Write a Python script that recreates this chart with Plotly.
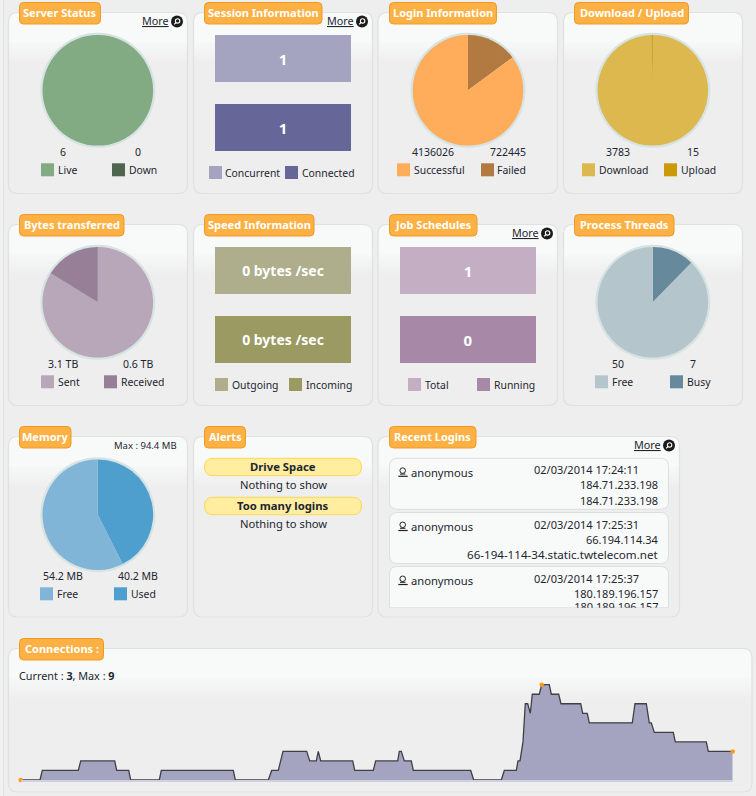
import plotly.graph_objects as go

W, H = 756, 796
FONT = "Noto Sans"
INK = "#1d2530"

# ---------- data ----------
server_labels = ["Live", "Down"]
server_values = [6, 0]
login_labels = ["Successful", "Failed"]
login_values = [4136026, 722445]
transfer_labels = ["Download", "Upload"]
transfer_values = [3783, 15]
bytes_labels = ["Sent", "Received"]
bytes_values = [3.1, 0.6]
thread_labels = ["Free", "Busy"]
thread_values = [50, 7]
memory_labels = ["Free", "Used"]
memory_values = [54.2, 40.2]

session_labels = ["Concurrent", "Connected"]
session_text = ["1", "1"]
speed_labels = ["Outgoing", "Incoming"]
speed_text = ["0 bytes /sec", "0 bytes /sec"]
job_labels = ["Total", "Running"]
job_text = ["1", "0"]
tile_length = [1, 1]

conn_t = [0, 19.3, 21.6, 57.6, 60, 94, 96, 108, 110, 138.6, 140.6, 212.6, 214.6, 247.6, 251, 257.6,
          262.3, 286, 289, 295.6, 297.6, 300, 332, 334, 352.6, 355, 377, 378.6, 380.6, 383.6, 390.6,
          392.6, 450, 453, 480.6, 483.6, 495.6, 497.3, 499.3, 502.3, 504.6, 507, 509.6, 511.6, 518.6,
          521, 528.6, 530.6, 538, 540.3, 560, 562, 566.6, 568.6, 611.6, 614.3, 625.6, 628.6, 630.6,
          633.6, 652.6, 654.6, 685.6, 687.6, 712]
conn_v = [0, 0, 1, 1, 2, 2, 1, 1, 0, 0, 1, 1, 0, 0, 1, 1,
          3, 3, 2, 2, 3, 2, 2, 1, 1, 2, 2, 3, 3, 2, 2,
          1, 1, 0, 0, 1, 1, 2, 2, 4, 8, 8, 7, 9, 9,
          10, 10, 9, 9, 8, 8, 7, 7, 6, 6, 8, 8, 6, 6,
          5, 5, 4, 4, 3, 3]

recent_users = ["anonymous", "anonymous", "anonymous"]
recent_times = ["02/03/2014 17:24:11", "02/03/2014 17:25:31", "02/03/2014 17:25:37"]
recent_ips = ["184.71.233.198", "66.194.114.34", "180.189.196.157"]
recent_hosts = ["184.71.233.198", "66-194-114-34.static.twtelecom.net", "180.189.196.157"]

# ---------- pixel helpers ----------
def fx(x):
    return x / W

def fy(y):
    return 1 - y / H

shapes = []
annos = []

def rect(x0, y0, x1, y1, fill, line=None, lw=0, layer="below"):
    shapes.append(dict(type="rect", xref="paper", yref="paper", x0=fx(x0), x1=fx(x1), y0=fy(y0), y1=fy(y1),
                       fillcolor=fill, line=dict(color=line or fill, width=lw), layer=layer))

def rrect(x0, y0, x1, y1, r, fill=None, line=None, lw=1, bottom=True):
    X = lambda v: f"{fx(v):.6f}"
    Y = lambda v: f"{fy(v):.6f}"
    p = f"M {X(x0 + r)} {Y(y0)} L {X(x1 - r)} {Y(y0)} Q {X(x1)} {Y(y0)} {X(x1)} {Y(y0 + r)} "
    if bottom:
        p += (f"L {X(x1)} {Y(y1 - r)} Q {X(x1)} {Y(y1)} {X(x1 - r)} {Y(y1)} "
              f"L {X(x0 + r)} {Y(y1)} Q {X(x0)} {Y(y1)} {X(x0)} {Y(y1 - r)} ")
    else:
        p += f"L {X(x1)} {Y(y1)} L {X(x0)} {Y(y1)} "
    p += f"L {X(x0)} {Y(y0 + r)} Q {X(x0)} {Y(y0)} {X(x0 + r)} {Y(y0)} Z"
    shapes.append(dict(type="path", xref="paper", yref="paper", path=p,
                       fillcolor=fill or "rgba(0,0,0,0)",
                       line=dict(color=line or "rgba(0,0,0,0)", width=lw if line else 0), layer="below"))

def circle(cx, cy, r, fill=None, line=None, lw=1):
    shapes.append(dict(type="circle", xref="paper", yref="paper", x0=fx(cx - r), x1=fx(cx + r),
                       y0=fy(cy - r), y1=fy(cy + r), fillcolor=fill or "rgba(0,0,0,0)",
                       line=dict(color=line or "rgba(0,0,0,0)", width=lw if line else 0), layer="below"))

def seg(x0, y0, x1, y1, color, lw=1):
    shapes.append(dict(type="line", xref="paper", yref="paper", x0=fx(x0), x1=fx(x1), y0=fy(y0), y1=fy(y1),
                       line=dict(color=color, width=lw), layer="below"))

def text(x, y, s, size=10.5, bold=False, color=INK, anchor="left"):
    annos.append(dict(xref="paper", yref="paper", x=fx(x), y=fy(y), text=f"<b>{s}</b>" if bold else s,
                      showarrow=False, xanchor=anchor, yanchor="middle", borderpad=0, borderwidth=0,
                      font=dict(family=FONT, size=size, color=color)))

def mix(a, b, t):
    ca = [int(a[i:i + 2], 16) for i in (1, 3, 5)]
    cb = [int(b[i:i + 2], 16) for i in (1, 3, 5)]
    return "#%02x%02x%02x" % tuple(round(p + (q - p) * t) for p, q in zip(ca, cb))

TOPC, BASE, EDGE = "#f8faf9", "#eeeeee", "#e1e1e1"

def panel(x0, y0, x1, y1, r=9):
    rrect(x0, y0, x1, y1, r, fill=BASE)
    rrect(x0 + .5, y0 + .5, x1 - .5, y0 + 30, r, fill=TOPC, bottom=False)
    n = 11
    for i in range(n):
        a = y0 + 30 + 2 * i
        rect(x0 + .5, a, x1 - .5, a + 2, mix(TOPC, BASE, (i + 1) / n))
    rrect(x0, y0, x1, y1, r, line=EDGE, lw=1.2)

def tag(x0, y0, x1, y1, s):
    rrect(x0, y0, x1, y1, 4, fill="#fdb144", line="#ef9a23", lw=1)
    text((x0 + x1) / 2, (y0 + y1) / 2 - .3, s, size=11, bold=True, color="#ffffff", anchor="center")

def more(x, y):
    text(x, y, "<u>More</u>", size=10.8)
    cx = x + 35
    circle(cx, y + 1, 6, fill="#1c1c1c")
    circle(cx + .6, y + .4, 2.2, line="#ffffff", lw=1.1)
    seg(cx - 1, y + 2, cx - 2.8, y + 3.8, "#ffffff", 1.2)

def legend(items, y, tx_dy=0):
    for sq, col, label in items:
        rect(sq, y - 6.5, sq + 13, y + 6.5, col)
        text(sq + 16.5, y + tx_dy, label, size=10.4)

# ---------- page chrome ----------
rect(0, 0, W, H, "#eeeeee")
rect(0, 0, 3, H, "#f1f1f1")
seg(3.5, 0, 3.5, H, "#e2e2e2", 1)

COLS = [(8.5, 187.5), (193.5, 372.5), (378, 557.5), (563.5, 742.5)]
for (a, b) in COLS:
    panel(a, 12.5, b, 193.5)
    panel(a, 224.5, b, 405.5)
panel(*(8.5, 436.5), 187.5, 617)
panel(193.5, 436.5, 372.5, 617)
panel(378, 436.5, 679.5, 617)
panel(8.5, 648.5, 752, 792)

tag(19.5, 2.5, 100.5, 24, "Server Status")
tag(204.5, 2.5, 322, 24, "Session Information")
tag(389.5, 2.5, 496.5, 24, "Login Information")
tag(574.5, 2.5, 688.5, 24, "Download / Upload")
tag(19.5, 214.5, 124, 236, "Bytes transferred")
tag(204.5, 214.5, 314, 236, "Speed Information")
tag(389.5, 214.5, 477, 236, "Job Schedules")
tag(574.5, 214.5, 674, 236, "Process Threads")
tag(19.5, 426.5, 71, 448, "Memory")
tag(204.5, 426.5, 245.5, 448, "Alerts")
tag(389.5, 426.5, 476, 448, "Recent Logins")
tag(19.5, 638.5, 103.5, 660, "Connections :")

more(142, 20.5)
more(327, 20.5)
more(512, 232.5)
more(634, 444.5)

# ---------- pies ----------
traces = []

def pie(cx, cy, labels, values, colors):
    # plotly draws the first slice clockwise from 12 o'clock
    R, ring = 55.3, 57.5
    circle(cx, cy, ring, fill="#d6e3e3")
    traces.append(go.Pie(labels=labels, values=values, sort=False, direction="clockwise", rotation=0,
                         textinfo="none", showlegend=False, marker=dict(colors=colors, line=dict(width=0)),
                         domain=dict(x=[fx(cx - R), fx(cx + R)], y=[fy(cy + R), fy(cy - R)])))

GREEN = ["#83ab83", "#4e664e"]
ORANGE = ["#ffac5b", "#b27a41"]
GOLD = ["#ddb84f", "#cc9908"]
MAUVE = ["#b8a7b8", "#977f97"]
STEEL = ["#b4c6cc", "#668a9c"]
BLUE = ["#81b5d7", "#4f9fce"]
LAV = ["#a4a4c1", "#666698"]
OLIVE = ["#aeae8c", "#9a9a62"]
PLUM = ["#c3aec3", "#a788a7"]

pie(97.8, 90.3, server_labels, server_values, GREEN)
pie(468, 90.3, login_labels[::-1], login_values[::-1], ORANGE[::-1])
pie(652.8, 90.3, transfer_labels, transfer_values, GOLD)
pie(97.8, 302.3, bytes_labels, bytes_values, MAUVE)
pie(652.8, 302.3, thread_labels[::-1], thread_values[::-1], STEEL[::-1])
pie(97.8, 514.7, memory_labels[::-1], memory_values[::-1], BLUE[::-1])

# pie captions
def caption(y, x1, t1, x2, t2):
    text(x1, y, t1, anchor="center")
    text(x2, y, t2, anchor="center")

caption(152, 63, str(server_values[0]), 138, str(server_values[1]))
legend([(41, GREEN[0], server_labels[0]), (112, GREEN[1], server_labels[1])], 169.8)
caption(152, 433.3, str(login_values[0]), 508.3, str(login_values[1]))
legend([(397, ORANGE[0], login_labels[0]), (481, ORANGE[1], login_labels[1])], 169.8)
caption(152, 618, str(transfer_values[0]), 693, str(transfer_values[1]))
legend([(582, GOLD[0], transfer_labels[0]), (664, GOLD[1], transfer_labels[1])], 169.8)
caption(364, 63, f"{bytes_values[0]} TB", 138, f"{bytes_values[1]} TB")
legend([(41, MAUVE[0], bytes_labels[0]), (104, MAUVE[1], bytes_labels[1])], 381.8)
caption(364, 618, str(thread_values[0]), 693, str(thread_values[1]))
legend([(595, STEEL[0], thread_labels[0]), (670, STEEL[1], thread_labels[1])], 381.8)
caption(576, 63.3, f"{memory_values[0]} MB", 138.3, f"{memory_values[1]} MB")
legend([(40, BLUE[0], memory_labels[0]), (114, BLUE[1], memory_labels[1])], 593.8)
text(176.5, 445.5, "Max : 94.4 MB", size=9.5, anchor="right")

legend([(209, LAV[0], session_labels[0]), (285, LAV[1], session_labels[1])], 172.5)
legend([(215, OLIVE[0], speed_labels[0]), (289, OLIVE[1], speed_labels[1])], 384.5)
legend([(408, PLUM[0], job_labels[0]), (477, PLUM[1], job_labels[1])], 384.5)

# ---------- value tiles ----------
axes = {}

def tiles(n, x0, x1, top, labels, txt, colors, size):
    # two tiles 47px tall with a 22px gap: band = 69px
    y0, y1 = top - 11, top + 127
    sfx = str(n)
    traces.append(go.Bar(orientation="h", y=labels, x=tile_length, text=txt, textposition="inside",
                         insidetextanchor="middle", textangle=0, constraintext="none",
                         textfont=dict(family=FONT, size=size, color="#ffffff", weight="bold"),
                         marker=dict(color=colors, line=dict(width=0)), showlegend=False,
                         xaxis="x" + sfx, yaxis="y" + sfx))
    axes["xaxis" + sfx] = dict(domain=[fx(x0), fx(x1)], range=[0, 1], visible=False, anchor="y" + sfx, fixedrange=True)
    axes["yaxis" + sfx] = dict(domain=[fy(y1), fy(y0)], range=[1.5, -0.5], type="category", visible=False,
                               anchor="x" + sfx, fixedrange=True)

tiles(2, 215, 351, 35, session_labels, session_text, LAV, 15)
tiles(3, 215, 351, 247, speed_labels, speed_text, OLIVE, 14)
tiles(4, 400, 536, 247, job_labels, job_text, PLUM, 15)

# ---------- alerts ----------
for (y0, y1, title, ny) in [(458.3, 475.7, "Drive Space", 484.7), (497.3, 514.7, "Too many logins", 523.7)]:
    rrect(204.5, y0, 361.5, y1, 8.7, fill="#ffeea0", line="#ffd755", lw=1)
    text(283, (y0 + y1) / 2 - .3, title, size=11.3, bold=True, anchor="center")
    text(283, ny, "Nothing to show", size=11.2, anchor="center")

# ---------- recent logins ----------
CARD_BOTTOM = 607.7
card_y = [458.3, 512.5, 566.5]
for i, y0 in enumerate(card_y):
    y1 = y0 + 51
    if y1 < CARD_BOTTOM:
        rrect(389.5, y0, 668.5, y1, 8, fill=TOPC, line="#dedede", lw=1)
    else:
        rrect(389.5, y0, 668.5, CARD_BOTTOM, 8, fill=TOPC, line="#dedede", lw=1, bottom=False)
        rect(388.5, CARD_BOTTOM, 669.5, CARD_BOTTOM + 2, BASE)
    circle(402.7, y0 + 12.3, 2.8, line="#222222", lw=1)
    seg(398.3, y0 + 18, 407.7, y0 + 18, "#222222", 1.2)
    seg(400, y0 + 15.8, 405.4, y0 + 15.8, "#222222", 1)
    text(411, y0 + 14.2, recent_users[i], size=11.2)
    text(586, y0 + 11.5, recent_times[i], size=11, anchor="center")
    text(658.3, y0 + 26.6, recent_ips[i], size=11, anchor="right")
    if y1 < CARD_BOTTOM:
        text(658.3, y0 + 42.2, recent_hosts[i], size=11 if i == 0 else 11.6, anchor="right")

# third card's last line is cut by the scrolling panel: clipped text trace
traces.append(go.Scatter(x=[269], y=[-0.7], mode="text", text=[recent_hosts[2]], textposition="middle left",
                         textfont=dict(family=FONT, size=11, color=INK), cliponaxis=True, showlegend=False,
                         hoverinfo="skip", xaxis="x5", yaxis="y5"))
axes["xaxis5"] = dict(domain=[fx(389.5), fx(668.5)], range=[0, 279], visible=False, anchor="y5", fixedrange=True)
axes["yaxis5"] = dict(domain=[fy(CARD_BOTTOM), fy(CARD_BOTTOM - 14)], range=[0, 14], visible=False, anchor="x5", fixedrange=True)

# ---------- connections ----------
text(19, 675.6, "Current : <b>3</b>, Max : <b>9</b>", size=10.8)
peak = conn_v.index(max(conn_v))
flags = [0, peak, len(conn_v) - 1]
traces.append(go.Scatter(x=conn_t, y=conn_v, mode="lines", fill="tozeroy", fillcolor="#a4a4c1",
                         line=dict(color="#3f3f46", width=1.3), cliponaxis=False, showlegend=False,
                         xaxis="x", yaxis="y"))
traces.append(go.Scatter(x=[conn_t[i] for i in flags], y=[conn_v[i] for i in flags], mode="markers",
                         marker=dict(color="#ff9a1a", size=4.5), cliponaxis=False, showlegend=False,
                         xaxis="x", yaxis="y"))

layout = dict(
    width=W, height=H, margin=dict(l=0, r=0, t=0, b=0), autosize=False,
    paper_bgcolor="#eeeeee", plot_bgcolor="rgba(0,0,0,0)",
    shapes=shapes, annotations=annos, bargap=22 / 69, showlegend=False, hovermode="closest",
    font=dict(family=FONT, size=10.5, color=INK),
    xaxis=dict(domain=[fx(20.7), fx(732.7)], range=[0, 712], showgrid=False, zeroline=False, showticklabels=False,
               ticks="", showline=True, linecolor="#cfcfdd", linewidth=1.5, anchor="y", fixedrange=True),
    yaxis=dict(domain=[fy(780), fy(680.9)], range=[0, 10.4], visible=False, anchor="x", fixedrange=True),
)
layout.update(axes)

fig = go.Figure(data=traces, layout=layout)
fig.write_html("out.html", config=dict(displayModeBar=False),
               post_script="document.body.style.margin='0';document.body.style.overflow='hidden';")
